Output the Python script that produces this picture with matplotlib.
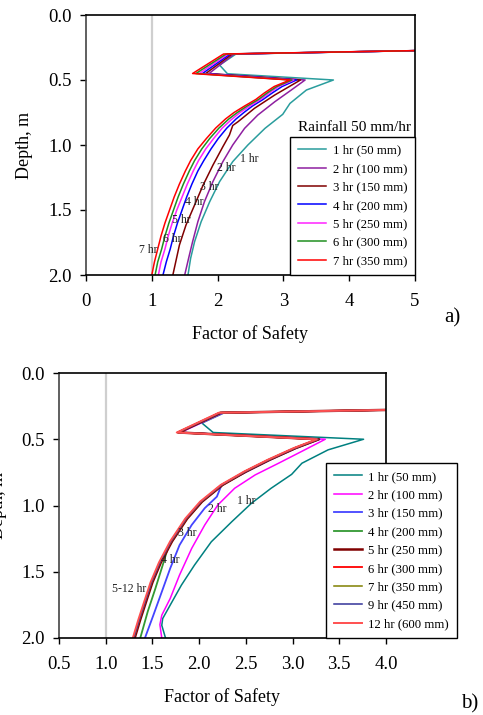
import numpy as np
import matplotlib
matplotlib.use("Agg")
import matplotlib.pyplot as plt
from matplotlib.ticker import FormatStrFormatter

plt.rcParams['font.family'] = ['Liberation Serif', 'DejaVu Serif']

# ---- panel a) rainfall 50 mm/hr, depth (m) vs factor of safety
a_labels = ['1 hr (50 mm)', '2 hr (100 mm)', '3 hr (150 mm)', '4 hr (200 mm)',
            '5 hr (250 mm)', '6 hr (300 mm)', '7 hr (350 mm)']
a_colors = ['#2a9d9d', '#8e1fa0', '#800000', '#0000ff', '#ff22ff', '#209020', '#ff0000']

# zigzag near the surface (depth 0.27 - 0.45 m)
a_top_depth = [0.265, 0.30, 0.45]
a_top_fs = {
    '2': [6.0, 2.25, 1.87], '3': [6.0, 2.22, 1.82], '4': [6.0, 2.19, 1.77],
    '5': [6.0, 2.16, 1.72], '6': [6.0, 2.13, 1.67], '7': [6.0, 2.09, 1.62],
}

a1_depth = [0.265, 0.30, 0.385, 0.452, 0.50, 0.577, 0.68, 0.764, 0.872, 1.0, 1.128,
            1.282, 1.436, 1.59, 1.744, 1.872, 2.0]
a1_fs = [6.0, 2.28, 2.03, 2.15, 3.76, 3.35, 3.10, 2.99, 2.72, 2.46, 2.23,
         2.03, 1.88, 1.75, 1.65, 1.59, 1.55]

a2_depth = [0.50, 0.577, 0.667, 0.77, 0.872, 1.0, 1.128, 1.28, 1.436, 1.59, 1.744, 1.87, 2.0]
a2_fs = [3.33, 3.12, 2.87, 2.61, 2.41, 2.23, 2.08, 1.93, 1.80, 1.70, 1.62, 1.56, 1.50]

a3_depth = [0.50, 0.615, 0.718, 0.821, 0.85, 0.923, 1.013, 1.154, 1.308, 1.462, 1.615, 1.769, 2.0]
a3_fs = [3.26, 2.87, 2.56, 2.31, 2.23, 2.18, 2.08, 1.93, 1.78, 1.65, 1.52, 1.42, 1.32]

a_curve_depth = [0.50, 0.55, 0.60, 0.65, 0.70, 0.75, 0.80, 0.87, 0.95, 1.03, 1.12, 1.20,
                 1.30, 1.40, 1.50, 1.60, 1.70, 1.80, 1.90, 2.00]
a4_fs = [3.20, 2.98, 2.83, 2.69, 2.53, 2.40, 2.28, 2.14, 2.01, 1.90, 1.79, 1.70,
         1.61, 1.53, 1.46, 1.39, 1.33, 1.28, 1.22, 1.17]
a5_fs = [3.16, 2.93, 2.78, 2.65, 2.49, 2.34, 2.22, 2.07, 1.94, 1.82, 1.71, 1.63,
         1.54, 1.46, 1.38, 1.31, 1.25, 1.20, 1.14, 1.10]
a6_fs = [3.13, 2.90, 2.75, 2.62, 2.45, 2.30, 2.17, 2.02, 1.88, 1.76, 1.65, 1.57,
         1.48, 1.40, 1.33, 1.26, 1.20, 1.15, 1.09, 1.05]
a7_fs = [3.10, 2.86, 2.71, 2.58, 2.41, 2.25, 2.12, 1.97, 1.83, 1.70, 1.59, 1.51,
         1.42, 1.34, 1.27, 1.20, 1.14, 1.09, 1.04, 1.00]

a_text = ['1 hr', '2 hr', '3 hr', '4 hr', '5 hr', '6 hr', '7 hr']
a_text_x = [2.48, 2.13, 1.88, 1.65, 1.45, 1.31, 0.94]
a_text_y = [1.11, 1.18, 1.32, 1.44, 1.58, 1.72, 1.81]

# ---- panel b)
b_labels = ['1 hr (50 mm)', '2 hr (100 mm)', '3 hr (150 mm)', '4 hr (200 mm)',
            '5 hr (250 mm)', '6 hr (300 mm)', '7 hr (350 mm)', '9 hr (450 mm)',
            '12 hr (600 mm)']
b_colors = ['#008080', '#ff00ff', '#4444ff', '#339933', '#800000', '#ff0000',
            '#808000', '#333399', '#ff5050']

b_top_depth = [0.255, 0.30, 0.449]

b1_depth = [0.255, 0.30, 0.378, 0.449, 0.50, 0.58, 0.681, 0.765, 0.87, 0.983, 1.122,
            1.274, 1.45, 1.601, 1.752, 1.853, 1.904, 2.0]
b1_fs = [6.0, 2.27, 2.03, 2.15, 3.76, 3.38, 3.10, 2.99, 2.77, 2.56, 2.35,
         2.13, 1.95, 1.81, 1.69, 1.61, 1.60, 1.64]

b2_depth = [0.50, 0.58, 0.681, 0.769, 0.87, 0.996, 1.147, 1.324, 1.525, 1.702, 1.828, 1.899, 2.0]
b2_fs = [3.35, 3.13, 2.85, 2.60, 2.38, 2.20, 2.06, 1.92, 1.79, 1.69, 1.60, 1.58, 1.60]

b3_depth = [0.50, 0.567, 0.656, 0.744, 0.845, 0.933, 1.02, 1.147, 1.299, 1.475, 1.652, 1.828, 2.0]
b3_fs = [3.29, 3.04, 2.76, 2.51, 2.24, 2.19, 2.06, 1.92, 1.79, 1.69, 1.60, 1.51, 1.42]

b4_depth = [0.50, 0.567, 0.656, 0.744, 0.845, 0.971, 1.10, 1.27, 1.31, 1.45, 1.63, 1.80, 2.0]
b4_fs = [3.28, 3.03, 2.75, 2.50, 2.25, 2.03, 1.87, 1.71, 1.67, 1.61, 1.53, 1.45, 1.37]

b_pack_depth = [0.50, 0.567, 0.656, 0.744, 0.845, 0.971, 1.10, 1.27, 1.43, 1.58, 1.73, 1.86, 2.0]
b5_fs = [3.28, 3.03, 2.75, 2.50, 2.25, 2.03, 1.87, 1.71, 1.59, 1.50, 1.43, 1.37, 1.31]
b6_fs = [3.27, 3.02, 2.74, 2.49, 2.24, 2.02, 1.86, 1.70, 1.58, 1.49, 1.42, 1.36, 1.30]
b7_fs = [3.27, 3.02, 2.74, 2.49, 2.24, 2.02, 1.86, 1.70, 1.58, 1.49, 1.42, 1.36, 1.30]
b9_fs = [3.27, 3.02, 2.74, 2.49, 2.24, 2.02, 1.86, 1.70, 1.58, 1.49, 1.42, 1.36, 1.30]
b12_fs = [3.26, 3.01, 2.73, 2.48, 2.23, 2.01, 1.85, 1.69, 1.57, 1.48, 1.41, 1.35, 1.29]
b_top_fs = {
    '2': [6.0, 2.26, 1.80], '3': [6.0, 2.25, 1.79], '4': [6.0, 2.24, 1.78],
    '5': [6.0, 2.23, 1.78], '6': [6.0, 2.22, 1.77], '7': [6.0, 2.22, 1.77],
    '9': [6.0, 2.22, 1.77], '12': [6.0, 2.21, 1.76],
}

b_text = ['1 hr', '2 hr', '3 hr', '4 hr', '5-12 hr']
b_text_x = [2.50, 2.19, 1.87, 1.69, 1.25]
b_text_y = [0.966, 1.03, 1.21, 1.41, 1.63]

W, H = 483, 715
fig = plt.figure(figsize=(W / 100, H / 100), dpi=100)


def style_axes(ax, xlim, xticks, xfmt, ylab_x):
    ax.set_xlim(*xlim)
    ax.set_ylim(2.0, 0.0)
    ax.set_xticks(xticks)
    ax.set_yticks([0.0, 0.5, 1.0, 1.5, 2.0])
    ax.xaxis.set_major_formatter(FormatStrFormatter(xfmt))
    ax.yaxis.set_major_formatter(FormatStrFormatter('%.1f'))
    ax.tick_params(direction='out', length=4, width=1, labelsize=13.5, top=False, right=False)
    ax.tick_params(axis='x', pad=9)
    ax.tick_params(axis='y', pad=6)
    for s in ax.spines.values():
        s.set_linewidth(1.2)
        s.set_color('black')
    ax.spines['left'].set_color('#444444')
    ax.set_xlabel('Factor of Safety', fontsize=13, labelpad=11)
    ax.set_ylabel('Depth, m', fontsize=13)
    ax.yaxis.set_label_coords(ylab_x, 0.5)
    ax.axvline(1.0, color='#cfcfcf', lw=1.6, zorder=0)


leg_kw = dict(fontsize=9.2, frameon=True, fancybox=False, edgecolor='black',
              borderaxespad=0, handlelength=2.2, handletextpad=0.5,
              labelspacing=0.5, borderpad=0.62, framealpha=1)

# panel a
ax1 = fig.add_axes([86 / W, 1 - 275 / H, 329 / W, 260 / H])
a_series = [
    (a1_depth, a1_fs),
    (a_top_depth + a2_depth, a_top_fs['2'] + a2_fs),
    (a_top_depth + a3_depth, a_top_fs['3'] + a3_fs),
    (a_top_depth + a_curve_depth, a_top_fs['4'] + a4_fs),
    (a_top_depth + a_curve_depth, a_top_fs['5'] + a5_fs),
    (a_top_depth + a_curve_depth, a_top_fs['6'] + a6_fs),
    (a_top_depth + a_curve_depth, a_top_fs['7'] + a7_fs),
]
for (d, f), c, lab in zip(a_series, a_colors, a_labels):
    ax1.plot(f, d, color=c, lw=1.1, label=lab)
style_axes(ax1, (0, 5), [0, 1, 2, 3, 4, 5], '%d', -0.16)
for t, x, y in zip(a_text, a_text_x, a_text_y):
    ax1.text(x, y, t, fontsize=8.5, ha='center', va='center', color='#222222')
leg1 = ax1.legend(loc='lower right', bbox_to_anchor=(1.0, 0.0), **leg_kw)
leg1.get_frame().set_linewidth(1.0)
ax1.text(0.815, 0.569, 'Rainfall 50 mm/hr', transform=ax1.transAxes, fontsize=11,
         ha='center', va='center')
fig.text(452 / W, 1 - 318 / H, 'a)', fontsize=15, ha='center', va='center')

# panel b
ax2 = fig.add_axes([59 / W, 1 - 638 / H, 327 / W, 265 / H])
b_series = [
    (b1_depth, b1_fs),
    (b_top_depth + b2_depth, b_top_fs['2'] + b2_fs),
    (b_top_depth + b3_depth, b_top_fs['3'] + b3_fs),
    (b_top_depth + b4_depth, b_top_fs['4'] + b4_fs),
    (b_top_depth + b_pack_depth, b_top_fs['5'] + b5_fs),
    (b_top_depth + b_pack_depth, b_top_fs['6'] + b6_fs),
    (b_top_depth + b_pack_depth, b_top_fs['7'] + b7_fs),
    (b_top_depth + b_pack_depth, b_top_fs['9'] + b9_fs),
    (b_top_depth + b_pack_depth, b_top_fs['12'] + b12_fs),
]
b_lws = [1.1, 1.1, 1.3, 1.3, 1.8, 1.3, 1.1, 1.1, 1.4]
for (d, f), c, lab, lw in zip(b_series, b_colors, b_labels, b_lws):
    ax2.plot(f, d, color=c, lw=lw, label=lab)
style_axes(ax2, (0.5, 4.0), [0.5, 1.0, 1.5, 2.0, 2.5, 3.0, 3.5, 4.0], '%.1f', -0.159)
for t, x, y in zip(b_text, b_text_x, b_text_y):
    ax2.text(x, y, t, fontsize=8.5, ha='center', va='center', color='#222222')
leg2 = ax2.legend(loc='lower left', bbox_to_anchor=(326 / W, 1 - 638 / H),
                  bbox_transform=fig.transFigure, **leg_kw)
leg2.get_frame().set_linewidth(1.0)
fig.text(470 / W, 1 - 704 / H, 'b)', fontsize=15, ha='center', va='center')

fig.savefig('out.png', dpi=100)
